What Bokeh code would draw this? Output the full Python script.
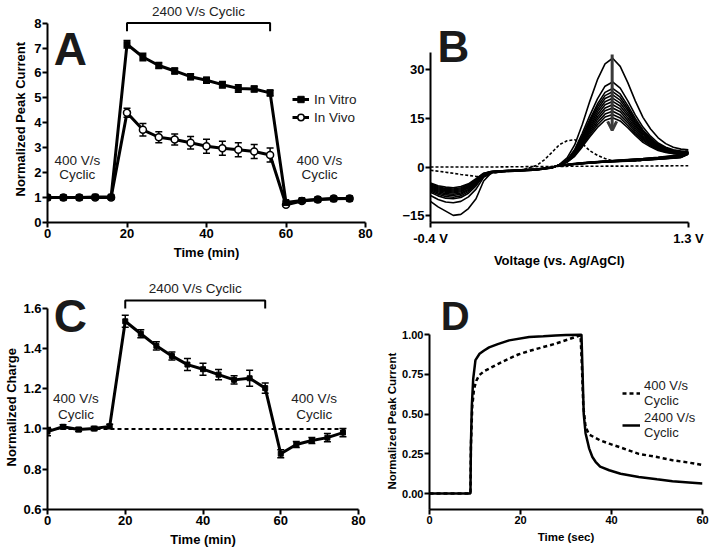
from bokeh.plotting import figure
from bokeh.layouts import column, row
from bokeh.models import (Range1d, Label, Whisker, TeeHead, ColumnDataSource, Legend,
                          LegendItem, FixedTicker, Arrow, OpenHead, CustomJSTickFormatter,
                          NumeralTickFormatter, Title)
from bokeh.embed import file_html
from bokeh.resources import INLINE

FONT = "Liberation Sans"

# ---------------- Panel A data ----------------
time_min = [0, 4, 8, 12, 16, 20, 24, 28, 32, 36, 40, 44, 48, 52, 56, 60, 64, 68, 72, 76]
vitro = [1.0, 1.0, 1.0, 1.02, 1.02, 7.15, 6.64, 6.30, 6.08, 5.85, 5.71, 5.53, 5.38, 5.36, 5.20,
         0.80, 0.88, 0.92, 0.95, 0.96]
vitro_err = [0.03, 0.03, 0.03, 0.03, 0.03, 0.15, 0.15, 0.12, 0.12, 0.12, 0.12, 0.13, 0.15, 0.12, 0.12,
             0.05, 0.04, 0.04, 0.04, 0.04]
vivo = [1.0, 1.0, 1.0, 1.0, 1.0, 4.40, 3.72, 3.42, 3.33, 3.20, 3.06, 2.98, 2.92, 2.85, 2.71,
        0.71, 0.86, 0.92, 0.96, 0.96]
vivo_err = [0.03, 0.03, 0.03, 0.03, 0.03, 0.18, 0.25, 0.22, 0.22, 0.25, 0.28, 0.28, 0.28, 0.28, 0.28,
            0.04, 0.04, 0.04, 0.04, 0.04]
period_2400 = (20, 56)

# ---------------- Panel B data ----------------
b_v_left = [-0.4, -0.35, -0.3, -0.25, -0.2, -0.15, -0.1, -0.05, 0.0, 0.1, 0.2, 0.3, 0.4]
b_v_right = [0.45, 0.5, 0.55, 0.6, 0.65, 0.7, 0.75, 0.8, 0.85, 0.9, 0.95, 1.0, 1.05, 1.1, 1.15, 1.2, 1.25, 1.3]
b_v_return = [1.25, 1.2, 1.1, 1.0, 0.9, 0.8, 0.7, 0.6, 0.5, 0.45]
cv_left = [
    [-10.6, -12.3, -13.6, -14.9, -14.6, -12.8, -9.8, -4.3, -1.8, -1.4, -1.2, -0.9, -0.3],
    [-8.8, -10.0, -10.8, -11.0, -10.6, -9.2, -6.8, -3.2, -1.7, -1.4, -1.2, -0.9, -0.3],
    [-7.8, -8.9, -9.6, -9.8, -9.4, -8.1, -5.8, -2.8, -1.6, -1.3, -1.1, -0.8, -0.2],
    [-7.4, -8.4, -9.1, -9.3, -8.9, -7.6, -5.4, -2.7, -1.6, -1.3, -1.1, -0.8, -0.2],
    [-7.0, -8.0, -8.6, -8.8, -8.4, -7.2, -5.1, -2.6, -1.6, -1.3, -1.1, -0.8, -0.2],
    [-6.7, -7.6, -8.2, -8.4, -8.0, -6.9, -4.9, -2.5, -1.5, -1.2, -1.0, -0.7, -0.2],
    [-6.4, -7.3, -7.8, -8.0, -7.6, -6.5, -4.6, -2.4, -1.5, -1.2, -1.0, -0.7, -0.2],
    [-6.1, -7.0, -7.5, -7.7, -7.3, -6.3, -4.4, -2.3, -1.5, -1.2, -1.0, -0.7, -0.1],
    [-5.8, -6.7, -7.2, -7.4, -7.0, -6.0, -4.2, -2.2, -1.5, -1.2, -1.0, -0.7, -0.1],
    [-5.5, -6.4, -6.9, -7.1, -6.7, -5.8, -4.0, -2.1, -1.4, -1.1, -0.9, -0.6, -0.1],
    [-5.2, -6.1, -6.6, -6.8, -6.4, -5.5, -3.8, -2.0, -1.4, -1.1, -0.9, -0.6, -0.1],
    [-4.9, -5.8, -6.2, -6.4, -6.0, -5.2, -3.6, -1.9, -1.4, -1.1, -0.9, -0.6, -0.1],
]
cv_right = [
    [0.8, 2.8, 6.8, 13.1, 20.3, 26.9, 31.8, 33.5, 31.0, 26.0, 20.3, 15.3, 11.7, 9.0, 7.2, 6.1, 5.5, 5.3],
    [0.7, 2.2, 5.4, 10.4, 15.9, 21.0, 24.9, 26.2, 24.3, 20.4, 16.0, 12.3, 9.5, 7.4, 6.1, 5.3, 4.9, 4.7],
    [0.7, 2.1, 5.1, 9.6, 14.7, 19.4, 23.0, 24.2, 22.5, 18.9, 14.9, 11.4, 8.9, 7.0, 5.8, 5.1, 4.8, 4.6],
    [0.6, 2.0, 4.9, 9.2, 14.1, 18.6, 22.0, 23.2, 21.5, 18.1, 14.3, 11.0, 8.6, 6.8, 5.7, 5.0, 4.7, 4.5],
    [0.6, 2.0, 4.7, 8.8, 13.5, 17.8, 21.1, 22.2, 20.6, 17.4, 13.7, 10.6, 8.3, 6.6, 5.5, 4.9, 4.6, 4.5],
    [0.6, 1.9, 4.5, 8.5, 12.9, 17.0, 20.1, 21.2, 19.7, 16.6, 13.1, 10.2, 8.0, 6.4, 5.4, 4.8, 4.5, 4.4],
    [0.6, 1.8, 4.3, 8.1, 12.3, 16.2, 19.2, 20.2, 18.8, 15.9, 12.6, 9.7, 7.7, 6.2, 5.2, 4.7, 4.4, 4.3],
    [0.6, 1.8, 4.1, 7.7, 11.7, 15.4, 18.2, 19.2, 17.9, 15.1, 12.0, 9.3, 7.4, 6.0, 5.1, 4.6, 4.3, 4.3],
    [0.5, 1.7, 3.9, 7.3, 11.1, 14.6, 17.3, 18.2, 17.0, 14.3, 11.4, 8.9, 7.1, 5.8, 4.9, 4.5, 4.2, 4.2],
    [0.5, 1.6, 3.7, 6.9, 10.5, 13.8, 16.3, 17.2, 16.0, 13.6, 10.8, 8.5, 6.8, 5.5, 4.8, 4.4, 4.2, 4.1],
    [0.5, 1.5, 3.5, 6.6, 9.9, 13.0, 15.4, 16.2, 15.1, 12.8, 10.2, 8.1, 6.5, 5.3, 4.6, 4.2, 4.1, 4.0],
    [0.5, 1.5, 3.3, 6.2, 9.3, 12.2, 14.4, 15.2, 14.2, 12.1, 9.7, 7.6, 6.2, 5.1, 4.5, 4.1, 4.0, 4.0],
]
cv_return = [
    [4.0, 3.5, 3.0, 2.6, 2.3, 2.0, 1.7, 1.3, 0.8, 0.4],
    [3.8, 3.4, 2.9, 2.5, 2.2, 1.9, 1.6, 1.3, 0.8, 0.4],
    [3.7, 3.3, 2.8, 2.5, 2.2, 1.9, 1.6, 1.2, 0.7, 0.4],
    [3.6, 3.2, 2.8, 2.4, 2.1, 1.9, 1.6, 1.2, 0.7, 0.4],
    [3.5, 3.2, 2.7, 2.4, 2.1, 1.8, 1.5, 1.2, 0.7, 0.3],
    [3.4, 3.1, 2.7, 2.3, 2.0, 1.8, 1.5, 1.2, 0.7, 0.3],
    [3.3, 3.0, 2.6, 2.3, 2.0, 1.8, 1.5, 1.1, 0.7, 0.3],
    [3.2, 2.9, 2.6, 2.2, 2.0, 1.7, 1.5, 1.1, 0.6, 0.3],
    [3.1, 2.9, 2.5, 2.2, 1.9, 1.7, 1.4, 1.1, 0.6, 0.3],
    [3.0, 2.8, 2.5, 2.2, 1.9, 1.7, 1.4, 1.1, 0.6, 0.3],
    [3.0, 2.8, 2.4, 2.1, 1.9, 1.6, 1.4, 1.0, 0.6, 0.3],
    [2.9, 2.7, 2.4, 2.1, 1.8, 1.6, 1.4, 1.0, 0.6, 0.3],
]
cv400_v = [-0.4, -0.3, -0.2, -0.1, -0.05, 0.0, 0.1, 0.2, 0.3, 0.35, 0.4, 0.45, 0.5, 0.55,
           0.6, 0.65, 0.7, 0.75, 0.8, 0.9, 1.0]
cv400_i = [-1.0, -1.6, -2.3, -2.9, -3.0, -2.0, -1.3, -1.0, 0.5, 2.2, 4.5, 6.9, 8.1, 8.4,
           7.2, 5.0, 3.6, 2.6, 1.9, 1.8, 2.0]
base400_v = [-0.4, 0.0, 0.45, 1.0, 1.3]
base400_i = [0.0, 0.0, 0.2, 0.3, 0.4]
arrow_v = 0.797
arrow_i = (34.7, 11.3)

# ---------------- Panel C data ----------------
charge = [0.987, 1.011, 0.997, 1.002, 1.013, 1.535, 1.473, 1.413, 1.363, 1.320, 1.297, 1.270,
          1.244, 1.252, 1.203, 0.877, 0.923, 0.943, 0.957, 0.982]
charge_err = [0.02, 0.01, 0.01, 0.01, 0.01, 0.03, 0.02, 0.02, 0.02, 0.03, 0.03, 0.025,
              0.02, 0.04, 0.025, 0.02, 0.015, 0.015, 0.02, 0.02]
ref_line_x = [0, 77]
ref_line_y = 1.0

# ---------------- Panel D data ----------------
t2400 = [0, 9.0, 9.1, 9.3, 9.6, 10.1, 11.0, 12.0, 13.1, 15.0, 17.5, 21.9, 25.0, 27.7, 30.0, 33.4,
         33.6, 33.9, 34.3, 35.1, 35.8, 36.5, 37.5, 39.5, 42.0, 46.0, 50.0, 53.4, 57.0, 60.0]
i2400 = [0, 0, 0.30, 0.55, 0.72, 0.84, 0.88, 0.90, 0.92, 0.94, 0.964, 0.985, 0.99, 0.995, 0.997, 1.0,
         0.80, 0.50, 0.38, 0.283, 0.23, 0.20, 0.17, 0.147, 0.125, 0.105, 0.09, 0.078, 0.07, 0.063]
t400 = [0, 9.0, 9.1, 9.4, 9.8, 10.3, 10.9, 12.0, 13.1, 15.0, 17.5, 19.5, 21.9, 25.0, 27.7, 30.5, 33.2,
        33.5, 33.8, 34.3, 35.1, 36.5, 37.5, 39.5, 42.0, 46.0, 50.0, 53.4, 57.0, 60.0]
i400 = [0, 0, 0.30, 0.55, 0.66, 0.71, 0.744, 0.77, 0.786, 0.815, 0.85, 0.875, 0.897, 0.922, 0.943, 0.97,
        0.996, 0.80, 0.55, 0.42, 0.371, 0.35, 0.335, 0.314, 0.29, 0.25, 0.23, 0.21, 0.195, 0.18]


def make_fig(width, height, xr, yr, left, right, top, bottom):
    p = figure(width=width, height=height, x_range=Range1d(*xr), y_range=Range1d(*yr),
               output_backend="svg", toolbar_location=None,
               min_border_left=left, min_border_right=right,
               min_border_top=top, min_border_bottom=bottom)
    p.outline_line_color = None
    p.xgrid.visible = False
    p.ygrid.visible = False
    p.background_fill_color = "white"
    p.border_fill_color = "white"
    return p


def style_axes(p, tick_size, label_size):
    for ax in p.axis:
        ax.axis_line_width = 2
        ax.axis_line_color = "black"
        ax.major_tick_line_width = 2
        ax.major_tick_line_color = "black"
        ax.major_tick_out = 5
        ax.major_tick_in = 0
        ax.minor_tick_line_color = None
        ax.major_label_text_font = FONT
        ax.major_label_text_font_style = "bold"
        ax.major_label_text_font_size = tick_size
        ax.major_label_text_color = "black"
        ax.major_label_standoff = 1
        ax.axis_label_text_font = FONT
        ax.axis_label_text_font_style = "bold"
        ax.axis_label_text_font_size = label_size
        ax.axis_label_text_color = "black"
        ax.axis_label_standoff = 4


def y_title(p, text, size, offset, standoff):
    # vertical axis title, centred on the drawn axis (not on the taller frame)
    p.add_layout(Title(text=text, align="left", offset=offset, standoff=standoff,
                       text_font=FONT, text_font_size=size, text_font_style="bold",
                       text_color="black"), "left")


def note(p, x, y, text, size="13.5px"):
    p.add_layout(Label(x=x, y=y, text=text, text_font=FONT, text_font_size=size,
                       text_align="center", text_baseline="middle", text_color="#222222"))


def letter(p, x, y, text, size):
    p.add_layout(Label(x=x, y=y, text=text, text_font=FONT, text_font_size=size,
                       text_font_style="bold", text_align="left", text_baseline="alphabetic",
                       text_color="#1a1a1a"))


def bracket(p, x0, x1, ytop, ytick):
    p.line([x0, x0, x1, x1], [ytick, ytop, ytop, ytick], line_color="black", line_width=2)


# ================= Panel A =================
pA = make_fig(380, 270, (0, 80), (0, 8.907), 47, 15, 0, 41)
style_axes(pA, "13px", "13px")
pA.xaxis.ticker = FixedTicker(ticks=[0, 20, 40, 60, 80])
pA.yaxis.ticker = FixedTicker(ticks=list(range(0, 9)))
pA.xaxis.bounds = (0, 80)
pA.yaxis.bounds = (0, 8)
pA.xaxis.axis_label = "Time (min)"
y_title(pA, "Normalized Peak Current", "13px", 26, 8)

srcA1 = ColumnDataSource(dict(x=time_min, y=vitro,
                              lo=[v - e for v, e in zip(vitro, vitro_err)],
                              hi=[v + e for v, e in zip(vitro, vitro_err)]))
srcA2 = ColumnDataSource(dict(x=time_min, y=vivo,
                              lo=[v - e for v, e in zip(vivo, vivo_err)],
                              hi=[v + e for v, e in zip(vivo, vivo_err)]))
for s in (srcA2, srcA1):
    pA.add_layout(Whisker(source=s, base="x", lower="lo", upper="hi", line_width=1.5,
                          line_color="black",
                          lower_head=TeeHead(size=7, line_width=1.5, line_color="black"),
                          upper_head=TeeHead(size=7, line_width=1.5, line_color="black")))
l2 = pA.line("x", "y", source=srcA2, line_color="black", line_width=3)
s2 = pA.scatter("x", "y", source=srcA2, marker="circle", size=7, fill_color="white",
                line_color="black", line_width=1.5)
l1 = pA.line("x", "y", source=srcA1, line_color="black", line_width=3)
s1 = pA.scatter("x", "y", source=srcA1, marker="square", size=6, fill_color="black",
                line_color="black")
legA = Legend(items=[LegendItem(label="In Vitro", renderers=[l1, s1]),
                     LegendItem(label="In Vivo", renderers=[l2, s2])],
              location=(245, 97), orientation="vertical", border_line_color=None,
              background_fill_alpha=0, padding=0, margin=0, spacing=2,
              glyph_width=17, glyph_height=16, label_height=16, label_standoff=5,
              label_text_font=FONT, label_text_font_size="13.5px", label_text_color="#222222")
pA.add_layout(legA)
bracket(pA, period_2400[0], period_2400[1], 8.0, 7.67)
note(pA, sum(period_2400) / 2, 8.45, "2400 V/s Cyclic")
note(pA, 7.5, 2.49, "400 V/s")
note(pA, 7.5, 1.906, "Cyclic")
note(pA, 68.4, 2.49, "400 V/s")
note(pA, 68.4, 1.906, "Cyclic")
letter(pA, 1.6, 6.944, "A", "46px")

# ================= Panel B =================
pB = make_fig(334, 270, (-0.4, 1.3), (-17.1, 51.3), 50, 26, 0, 41)
style_axes(pB, "13px", "13px")
pB.xaxis.ticker = FixedTicker(ticks=[-0.4, 1.3])
pB.xaxis.formatter = CustomJSTickFormatter(code="return tick.toFixed(1) + ' V';")
pB.yaxis.ticker = FixedTicker(ticks=[-15, 0, 15, 30])
pB.xaxis.bounds = (-0.4, 1.3)
pB.yaxis.bounds = (-17.1, 35.3)
pB.xaxis.axis_label = "Voltage (vs. Ag/AgCl)"
pB.xaxis.major_label_standoff = 3

pB.line(base400_v, base400_i, line_color="black", line_width=1.6, line_dash="3 2")
pB.line(cv400_v, cv400_i, line_color="black", line_width=1.6, line_dash="3 2")
xs_cv = [b_v_left + b_v_right + b_v_return for _ in cv_left]
ys_cv = [l + r + q for l, r, q in zip(cv_left, cv_right, cv_return)]
pB.multi_line(xs_cv, ys_cv, line_color="black", line_width=1.6)
pB.add_layout(Arrow(x_start=arrow_v, y_start=arrow_i[0], x_end=arrow_v, y_end=arrow_i[1],
                    line_color="#3a3a3a", line_width=3,
                    end=OpenHead(size=9, line_color="#3a3a3a", line_width=3)))
letter(pB, -0.354, 37.1, "B", "44px")

# ================= Panel C =================
pC = make_fig(380, 284, (0, 80), (0.6, 1.7625), 47, 22, 5, 45)
style_axes(pC, "13px", "13px")
pC.xaxis.ticker = FixedTicker(ticks=[0, 20, 40, 60, 80])
pC.yaxis.ticker = FixedTicker(ticks=[0.6, 0.8, 1.0, 1.2, 1.4, 1.6])
pC.yaxis.formatter = NumeralTickFormatter(format="0.0")
pC.xaxis.bounds = (0, 80)
pC.yaxis.bounds = (0.6, 1.6)
pC.xaxis.axis_label = "Time (min)"
y_title(pC, "Normalized Charge", "13px", 43, 3)

pC.line(ref_line_x, [ref_line_y, ref_line_y], line_color="black", line_width=2, line_dash="4 3")
srcC = ColumnDataSource(dict(x=time_min, y=charge,
                             lo=[v - e for v, e in zip(charge, charge_err)],
                             hi=[v + e for v, e in zip(charge, charge_err)]))
pC.add_layout(Whisker(source=srcC, base="x", lower="lo", upper="hi", line_width=1.5,
                      line_color="black",
                      lower_head=TeeHead(size=7, line_width=1.5, line_color="black"),
                      upper_head=TeeHead(size=7, line_width=1.5, line_color="black")))
pC.line("x", "y", source=srcC, line_color="black", line_width=3)
pC.scatter("x", "y", source=srcC, marker="square", size=5, fill_color="black", line_color="black")
bracket(pC, period_2400[0], period_2400[1], 1.638, 1.598)
note(pC, sum(period_2400) / 2, 1.698, "2400 V/s Cyclic")
note(pC, 7.3, 1.150, "400 V/s")
note(pC, 7.3, 1.072, "Cyclic")
note(pC, 68.6, 1.150, "400 V/s")
note(pC, 68.6, 1.072, "Cyclic")
letter(pC, 1.6, 1.561, "C", "46px")

# ================= Panel D =================
pD = make_fig(334, 284, (0, 60), (-0.1, 1.372), 49, 12, 5, 45)
style_axes(pD, "11px", "11.5px")
pD.xaxis.ticker = FixedTicker(ticks=[0, 20, 40, 60])
pD.yaxis.ticker = FixedTicker(ticks=[0, 0.25, 0.5, 0.75, 1.0])
pD.yaxis.formatter = NumeralTickFormatter(format="0.00")
pD.xaxis.bounds = (0, 60)
pD.yaxis.bounds = (-0.1, 1.0)
pD.xaxis.axis_label = "Time (sec)"
y_title(pD, "Normalized Peak Current", "11.5px", 20, 4)

d400 = pD.line(t400, i400, line_color="black", line_width=2.5, line_dash="4 3")
d2400 = pD.line(t2400, i2400, line_color="black", line_width=2.5)
legD = Legend(items=[LegendItem(label="400 V/s\nCyclic", renderers=[d400]),
                     LegendItem(label="2400 V/s\nCyclic", renderers=[d2400])],
              location=(193, 69), orientation="vertical", border_line_color=None,
              background_fill_alpha=0, padding=0, margin=0, spacing=2,
              glyph_width=18, glyph_height=14, label_standoff=4,
              label_text_font=FONT, label_text_font_size="13px", label_text_color="#222222")
pD.add_layout(legD)
letter(pD, 2.45, 1.118, "D", "40px")

layout = column(row(pA, pB), row(pC, pD))
open("out.html", "w").write(file_html(layout, INLINE))
